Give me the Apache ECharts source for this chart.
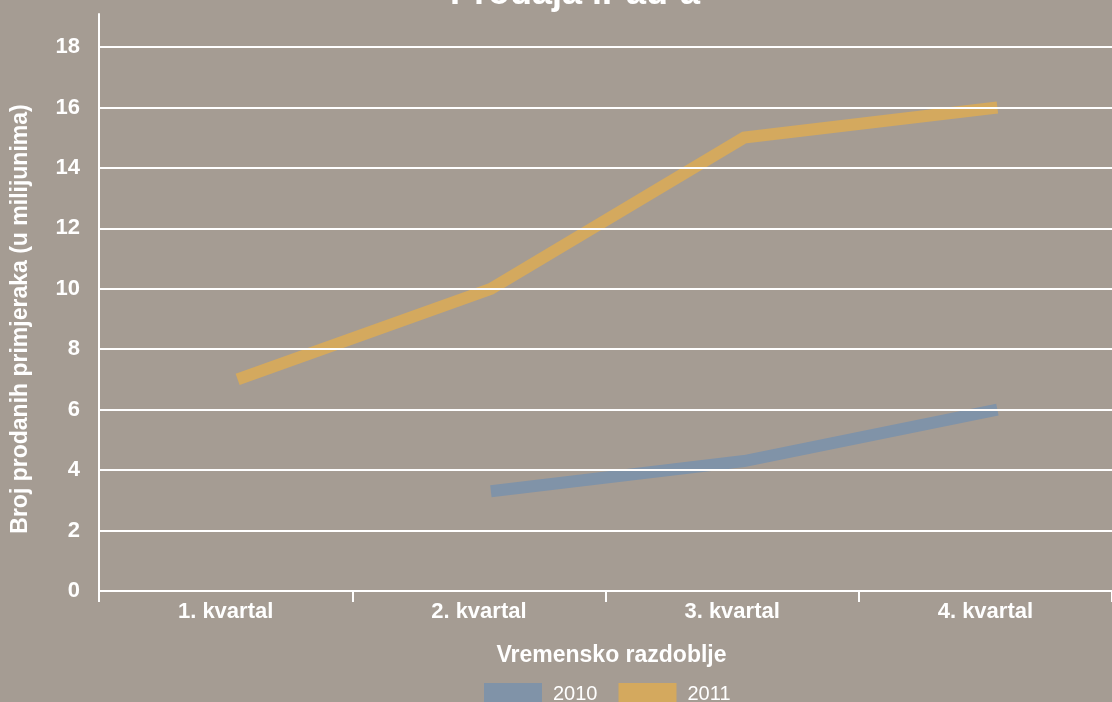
<!DOCTYPE html>
<html>
<head>
<meta charset="utf-8">
<script src="https://cdn.jsdelivr.net/npm/echarts@6/dist/echarts.min.js"></script>
<style>
html,body{margin:0;padding:0;background:#a59c93;}
#c{width:1112px;height:702px;}
</style>
</head>
<body>
<div id="c"></div>
<script>
const categories = ['1. kvartal', '2. kvartal', '3. kvartal', '4. kvartal'];
const seriesNames = ['2010', '2011'];
const sales2010 = [null, 3.3, 4.3, 6.0];
const sales2011 = [7, 10, 15, 16];
const yMin = 0, yMax = 18, yInterval = 2;

const FONT = '"Liberation Sans", Arial, Helvetica, sans-serif';
const WHITE = '#ffffff';
const C2010 = '#8093a8';
const C2011 = '#d4a95e';

const chart = echarts.init(document.getElementById('c'));
chart.setOption({
  backgroundColor: '#a59c93',
  animation: false,
  title: {
    text: 'Prodaja iPad-a',
    left: 570, textAlign: 'center', top: -29,
    textStyle: { color: WHITE, fontFamily: FONT, fontWeight: 'bold', fontSize: 36 }
  },
  legend: {
    data: seriesNames,
    icon: 'rect',
    left: 479, top: 678,
    itemWidth: 58, itemHeight: 22, itemGap: 21,
    textStyle: { color: WHITE, fontFamily: FONT, fontSize: 20, padding: [0, 0, 0, 6] }
  },
  grid: [
    { left: 99, right: 0, top: 47, bottom: 111, outerBoundsMode: 'none' },
    { left: 111, width: 1013, top: 47, bottom: 111, outerBoundsMode: 'none' },
    { left: 99, width: 10, top: 14, bottom: 111, outerBoundsMode: 'none' }
  ],
  xAxis: [
    {
      type: 'category', gridIndex: 0, data: categories, boundaryGap: true,
      axisLine: { show: true, lineStyle: { color: WHITE, width: 2 } },
      axisTick: { show: true, length: 11, lineStyle: { color: WHITE, width: 2 } },
      axisLabel: { color: WHITE, fontFamily: FONT, fontWeight: 'bold', fontSize: 22, margin: 10 },
      name: 'Vremensko razdoblje', nameLocation: 'middle', nameGap: 53,
      nameTextStyle: { color: WHITE, fontFamily: FONT, fontWeight: 'bold', fontSize: 23, padding: [0, 0, 0, 12] }
    },
    { type: 'category', gridIndex: 1, data: categories, boundaryGap: true, show: false },
    { type: 'value', gridIndex: 2, show: false }
  ],
  yAxis: [
    {
      type: 'value', gridIndex: 0, min: yMin, max: yMax, interval: yInterval, z: 5,
      axisLine: { show: true, lineStyle: { color: WHITE, width: 2 } },
      axisTick: { show: false },
      splitLine: { show: true, lineStyle: { color: WHITE, width: 2 } },
      axisLabel: { color: WHITE, fontFamily: FONT, fontWeight: 'bold', fontSize: 22, margin: 19 },
      name: 'Broj prodanih primjeraka (u milijunima)', nameLocation: 'middle', nameGap: 67,
      nameTextStyle: { color: WHITE, fontFamily: FONT, fontWeight: 'bold', fontSize: 23 }
    },
    { type: 'value', gridIndex: 1, min: yMin, max: yMax, show: false },
    {
      type: 'value', gridIndex: 2, min: 0, max: 1, z: 5,
      axisLine: { show: true, lineStyle: { color: WHITE, width: 2 } },
      axisTick: { show: false }, axisLabel: { show: false }, splitLine: { show: false }
    }
  ],
  series: [
    {
      name: seriesNames[0], type: 'line', xAxisIndex: 1, yAxisIndex: 1, data: sales2010,
      symbol: 'none', showSymbol: false, z: 2,
      itemStyle: { color: C2010 },
      lineStyle: { color: C2010, width: 12, opacity: 1, cap: 'butt', join: 'miter' }
    },
    {
      name: seriesNames[1], type: 'line', xAxisIndex: 1, yAxisIndex: 1, data: sales2011,
      symbol: 'none', showSymbol: false, z: 2,
      itemStyle: { color: C2011 },
      lineStyle: { color: C2011, width: 12, opacity: 1, cap: 'butt', join: 'miter' }
    }
  ]
});
</script>
</body>
</html>
